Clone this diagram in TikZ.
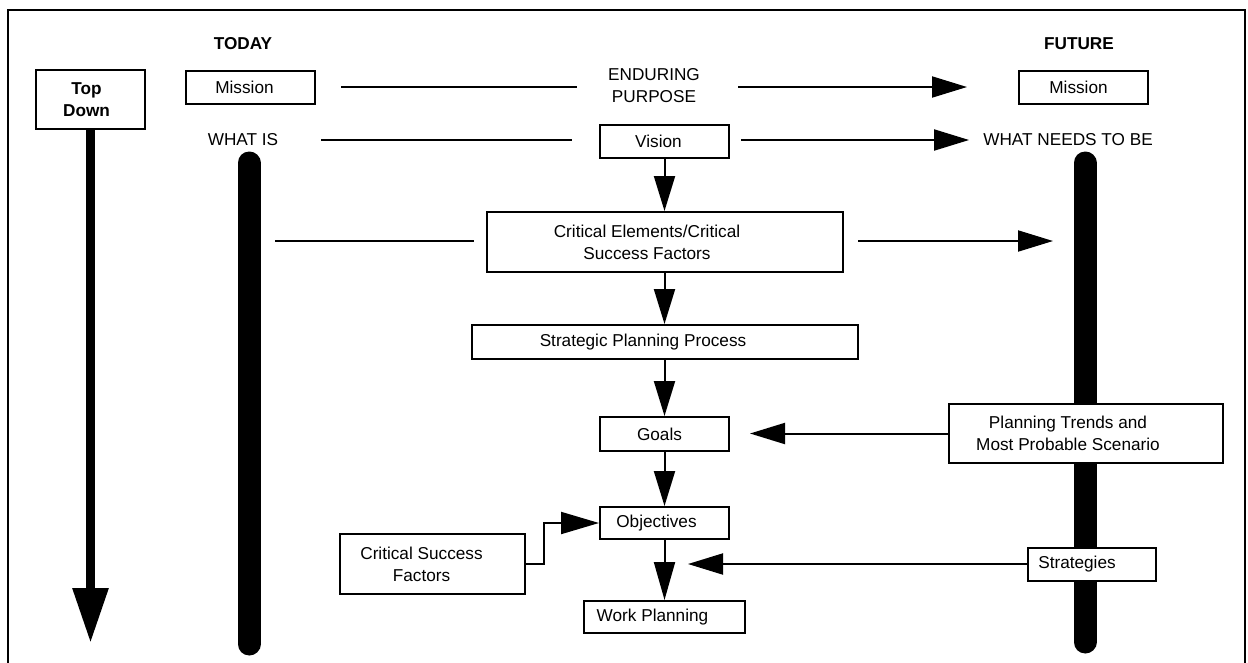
\documentclass[tikz,border=0pt]{standalone}
\usepackage{fontspec}
\setmainfont{Liberation Sans}
\usetikzlibrary{arrows.meta}
\begin{document}
\begin{tikzpicture}[x=1pt,y=-1pt,
  every node/.style={font=\fontsize{17.2}{22}\selectfont},
  box/.style={draw, line width=2pt, fill=white, inner sep=0pt, align=center},
  lbl/.style={inner sep=0pt, align=center},
  conn/.style={line width=2pt},
  arr/.style={line width=2pt, -{Triangle[length=35pt,width=21pt]}},
  bar/.style={line width=23pt, line cap=round}
]
\useasboundingbox (0,0) rectangle (1248,662);
% frame
\draw[line width=2pt] (8,663) -- (8,10) -- (1245,10) -- (1245,663);

% timeline bars
\coordinate (lbartop) at (249,163);
\coordinate (lbarbot) at (249,644);
\coordinate (rbartop) at (1085,163);
\coordinate (rbarbot) at (1085,642);
\draw[bar] (lbartop) -- (lbarbot);
\draw[bar] (rbartop) -- (rbarbot);

% headings
\node[lbl, font=\fontsize{17.2}{22}\selectfont\bfseries] (today) at (243,44) {TODAY};
\node[lbl, font=\fontsize{17.2}{22}\selectfont\bfseries] (future) at (1079,44) {FUTURE};

% top down
\node[box, minimum width=109pt, minimum height=59pt, font=\fontsize{17.2}{22}\selectfont\bfseries]
  (topdown) at (90.5,99.5) {Top\hspace*{8pt}\\Down\hspace*{8pt}};
\coordinate (tdtip) at (90,643);
\draw[line width=9pt, -{Triangle[length=55pt,width=34pt]}] (topdown.south) -- (topdown.south |- tdtip);

% row 1
\node[box, minimum width=129pt, minimum height=33pt] (missionL) at (250.5,87) {Mission\hspace*{12pt}};
\node[lbl] (enduring) at (654,86) {ENDURING\\PURPOSE};
\node[box, minimum width=129pt, minimum height=33pt] (missionR) at (1083.5,87) {Mission\hspace*{10pt}};
\draw[conn, shorten <=25pt, shorten >=31pt] (missionL.east) -- (missionL.east -| enduring.west);
\draw[arr, shorten <=38pt, shorten >=51pt] (missionL.east -| enduring.east) -- (missionR.west);

% row 2
\node[lbl] (whatis) at (243,140) {WHAT IS};
\node[box, minimum width=129pt, minimum height=33pt] (vision) at (664.5,141) {Vision\hspace*{12pt}};
\node[lbl] (whatneeds) at (1068,140) {WHAT NEEDS TO BE};
\draw[conn, shorten <=43pt, shorten >=27pt] (whatis.east) -- (whatis.east -| vision.west);
\draw[arr, shorten <=11pt, shorten >=14pt] (whatis.east -| vision.east) -- (whatneeds.west);

% critical elements
\node[box, minimum width=356pt, minimum height=60pt] (ce) at (665,242)
  {Critical Elements/Critical\hspace*{36pt}\\Success Factors\hspace*{36pt}};
\draw[arr] (vision.south) -- (vision.south |- ce.north);
\coordinate (lbarce) at (261,241);
\coordinate (rbarce) at (1073,241);
\draw[conn, shorten <=14pt, shorten >=12pt] (lbarce) -- (lbarce -| ce.west);
\draw[arr, shorten <=14pt, shorten >=20pt] (ce.east |- rbarce) -- (rbarce);

% strategic planning process
\node[box, minimum width=386pt, minimum height=34pt] (spp) at (665,342) {Strategic Planning Process\hspace*{44pt}};
\draw[arr] (ce.south -| vision.south) -- (vision.south |- spp.north);

% goals
\node[box, minimum width=129pt, minimum height=34pt] (goals) at (664.5,434) {Goals\hspace*{10pt}};
\draw[arr] (spp.south -| vision.south) -- (vision.south |- goals.north);

% planning trends
\node[box, minimum width=274pt, minimum height=59pt] (pt) at (1086,433.5)
  {Planning Trends and\hspace*{36pt}\\Most Probable Scenario\hspace*{36pt}};
\draw[arr, shorten >=20pt] (pt.west) -- (pt.west -| goals.east);

% objectives
\node[box, minimum width=129pt, minimum height=32pt] (obj) at (664.5,523) {Objectives\hspace*{16pt}};
\draw[arr] (goals.south -| vision.south) -- (vision.south |- obj.north);

% critical success factors
\node[box, minimum width=185pt, minimum height=60pt] (csf) at (432.5,564)
  {Critical Success\hspace*{22pt}\\Factors\hspace*{22pt}};
\draw[conn, -{Triangle[length=38pt,width=22pt]}] (csf.east) -- ++(18,0) |- (obj.west);

% work planning
\node[box, minimum width=161pt, minimum height=32pt] (wp) at (664.5,617) {Work Planning\hspace*{24pt}};
\draw[arr, -{Triangle[length=38pt,width=21pt]}] (obj.south -| vision.south) -- (vision.south |- wp.north);

% strategies
\node[box, minimum width=128pt, minimum height=33pt] (strat) at (1092,564) {Strategies\hspace*{30pt}};
\coordinate (stip) at (688,563);
\draw[arr] (strat.west) -- (strat.west -| stip);
\end{tikzpicture}
\end{document}
